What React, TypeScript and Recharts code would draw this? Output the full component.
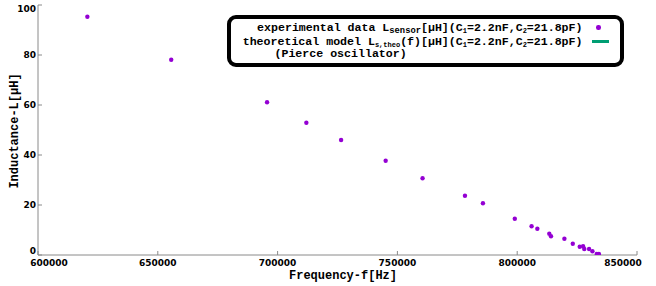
import { Scatter, ScatterChart, XAxis, YAxis } from 'recharts'

const frequency = [
  620600, 655600, 695600, 712000, 726500, 745100, 760500, 778200, 785700, 799000, 806000, 808400,
  813400, 814100, 819700, 823200, 826100, 827500, 828000, 830000, 831400, 833200, 834100
]
const inductance = [
  95.3, 78.1, 61.1, 52.9, 46, 37.7, 30.7, 23.7, 20.7, 14.5, 11.5, 10.5, 8.5, 7.5, 6.5, 4.5, 3.3,
  3.5, 2.4, 2.4, 1.5, 0.4, 0.4
]
const xTicks = [600000, 650000, 700000, 750000, 800000, 850000]
const yTicks = [0, 20, 40, 60, 80, 100]

const points = frequency.map((f, i) => ({ f, L: inductance[i] }))

const PURPLE = '#9400d3'
const GREEN = '#009e73'
const BORDER = '#8a8a8a'
const tickFont = { fontFamily: 'DejaVu Sans', fontWeight: 700, fontSize: 9, fill: '#000' }
const mono = "'Liberation Mono', 'DejaVu Sans Mono', monospace"

// edge labels sit nudged inside the frame like in the original plot
function XTick(props: any) {
  const { x, y, payload } = props
  const dx = payload.value === 600000 ? 11 : payload.value === 850000 ? -9 : 0
  return (
    <text x={x + dx} y={y} textAnchor="middle" dy="0.71em" {...tickFont}>
      {payload.value}
    </text>
  )
}

function YTick(props: any) {
  const { x, y, payload } = props
  const dy = payload.value === 0 ? -4.5 : 0
  return (
    <text x={x} y={y + dy} textAnchor="end" dominantBaseline="central" {...tickFont}>
      {payload.value}
    </text>
  )
}

const Dot = (props: any) => <circle cx={props.cx} cy={props.cy} r={2.2} fill={PURPLE} />

const sub = { fontSize: 7, position: 'relative', top: 2, lineHeight: 0 } as const
const subWide = { ...sub, fontSize: 8.8 }

function KeyBox() {
  const row = {
    position: 'absolute',
    height: 12,
    lineHeight: '12px',
    whiteSpace: 'nowrap',
    fontFamily: mono,
    fontWeight: 700,
    fontSize: 11.6,
    color: '#000'
  } as const
  return (
    <div
      style={{
        position: 'absolute',
        left: 227,
        top: 15,
        width: 397,
        height: 52,
        boxSizing: 'border-box',
        border: '4.5px solid #000',
        borderRadius: 9,
        background: '#fff'
      }}
    >
      <div style={{ ...row, right: 37.5, top: 2.5 }}>
        experimental data L<span style={subWide}>sensor</span>[μH](C<span style={sub}>1</span>
        =2.2nF,C<span style={sub}>2</span>=21.8pF)
      </div>
      <div style={{ ...row, right: 37.5, top: 16.5 }}>
        theoretical model L<span style={sub}>s,theo</span>(f)[μH](C<span style={sub}>1</span>
        =2.2nF,C<span style={sub}>2</span>=21.8pF)
      </div>
      <div style={{ ...row, left: 43.5, top: 29 }}>(Pierce oscillator)</div>
      <div
        style={{
          position: 'absolute',
          left: 365.3,
          top: 6.3,
          width: 4.4,
          height: 4.4,
          borderRadius: '50%',
          background: PURPLE
        }}
      />
      <div
        style={{
          position: 'absolute',
          left: 360.5,
          top: 21.3,
          width: 17,
          height: 2.5,
          background: GREEN
        }}
      />
    </div>
  )
}

export default function App() {
  return (
    <div style={{ position: 'absolute', left: 0, top: 0, width: 656, height: 286, background: '#fff' }}>
      <ScatterChart width={656} height={286} margin={{ top: 5, right: 19, left: 0, bottom: 0 }}>
        <XAxis
          dataKey="f"
          type="number"
          domain={[600000, 850000]}
          ticks={xTicks}
          allowDataOverflow
          height={31}
          stroke={BORDER}
          tickSize={-4}
          tickMargin={9}
          tick={<XTick />}
          label={(p: any) => (
            <text
              x={343}
              y={p.viewBox.y + 24}
              textAnchor="middle"
              fontFamily={mono}
              fontWeight={700}
              fontSize={12}
              fill="#000"
            >
              Frequency-f[Hz]
            </text>
          )}
        />
        <XAxis
          xAxisId="top"
          orientation="top"
          type="number"
          domain={[600000, 850000]}
          ticks={xTicks}
          allowDataOverflow
          height={0}
          stroke={BORDER}
          tickSize={-4}
          tickFormatter={() => ''}
        />
        <YAxis
          dataKey="L"
          type="number"
          domain={[0, 100]}
          ticks={yTicks}
          allowDataOverflow
          width={38}
          stroke={BORDER}
          tickSize={-4}
          tickMargin={6}
          tick={<YTick />}
          label={(p: any) => {
            const cx = 15
            const cy = p.viewBox.y + p.viewBox.height / 2 + 1
            return (
              <text
                x={cx}
                y={cy}
                transform={`rotate(-90 ${cx} ${cy})`}
                textAnchor="middle"
                dominantBaseline="central"
                fontFamily={mono}
                fontWeight={700}
                fontSize={12}
                fill="#000"
              >
                Inductance-L[μH]
              </text>
            )
          }}
        />
        <YAxis
          yAxisId="right"
          orientation="right"
          type="number"
          domain={[0, 100]}
          ticks={yTicks}
          allowDataOverflow
          width={0}
          stroke={BORDER}
          tickSize={-4}
          tickFormatter={() => ''}
        />
        <Scatter data={points} fill={PURPLE} shape={Dot} isAnimationActive={false} />
      </ScatterChart>
      <KeyBox />
    </div>
  )
}
